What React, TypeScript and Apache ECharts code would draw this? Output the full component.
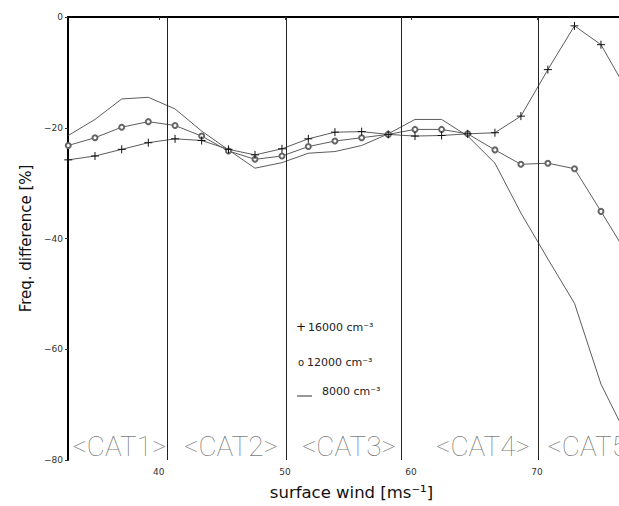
import React, { useEffect, useRef } from "react";
import * as echarts from "echarts";

// surface wind speed of each sample point [m/s]
const windSpeed = [
  32.82, 34.94, 37.06, 39.17, 41.29, 43.4, 45.53, 47.63, 49.77, 51.86, 53.97,
  56.09, 58.2, 60.32, 62.43, 64.5, 66.66, 68.72, 70.86, 72.97, 75.07, 77.19,
];

// frequency difference [%] per aerosol concentration
const diff16000 = [
  -25.8, -25.1, -23.9, -22.7, -22.0, -22.3, -23.9, -24.9, -23.8, -22.0, -20.8,
  -20.7, -21.2, -21.5, -21.4, -21.1, -20.9, -17.9, -9.5, -1.6, -5.0, -13.5,
];
const diff12000 = [
  -23.2, -21.8, -19.9, -18.9, -19.6, -21.5, -24.2, -25.7, -25.1, -23.4, -22.4,
  -21.8, -21.2, -20.3, -20.3, -21.1, -24.0, -26.6, -26.4, -27.4, -35.1, -43.0,
];
const diff8000 = [
  -21.4, -18.5, -14.8, -14.5, -16.6, -20.6, -24.0, -27.3, -26.3, -24.6, -24.3,
  -23.2, -21.1, -18.5, -18.5, -21.5, -26.4, -35.4, -43.7, -51.7, -66.3, -76.0,
];

// hurricane category boundaries [m/s] and the category captions
const categoryBounds = [40.7, 50.1, 59.2, 70.1];
const categoryNames = ["<CAT1>", "<CAT2>", "<CAT3>", "<CAT4>", "<CAT5>"];
const categoryCenters = [36.88, 45.73, 55.08, 65.71, 74.55];

const xTicks = [40, 50, 60, 70];
const legendNames = ["16000 cm⁻³", "12000 cm⁻³", "8000 cm⁻³"];

const X_MIN = 32.8;
const X_MAX = 76.5;

const pairs = (ys: number[]) => windSpeed.map((x, i) => [x, ys[i]]);

export default function App() {
  const ref = useRef<HTMLDivElement>(null);

  useEffect(() => {
    if (!ref.current) return;
    const chart = echarts.init(ref.current, null, { renderer: "svg" });
    const tickFont = { fontFamily: "DejaVu Sans", fontSize: 9, color: "#333" };
    const lineGray = "#5c5c5c";
    const legendFont = { fontFamily: "DejaVu Sans", fontSize: 11, fill: "#222", verticalAlign: "middle" };

    chart.setOption({
      animation: false,
      backgroundColor: "#fff",
      grid: { left: 68, right: 0, top: 17, bottom: 41 },
      xAxis: [
        {
          type: "value",
          min: X_MIN,
          max: X_MAX,
          name: "surface wind [ms⁻¹]",
          nameLocation: "middle",
          nameGap: 24,
          nameTextStyle: {
            fontFamily: "DejaVu Sans",
            fontSize: 16.5,
            color: "#111",
            padding: [0, 0, 0, 16],
          },
          axisLine: { lineStyle: { color: "#000", width: 2 } },
          axisTick: { show: true, length: 3, customValues: xTicks, lineStyle: { color: "#333" } },
          axisLabel: { ...tickFont, margin: 7, customValues: xTicks },
          splitLine: { show: false },
        },
        {
          type: "value",
          position: "top",
          min: X_MIN,
          max: X_MAX,
          axisLine: { show: true, lineStyle: { color: "#000", width: 2 } },
          axisTick: { show: false },
          axisLabel: { show: false },
          splitLine: { show: false },
        },
      ],
      yAxis: {
        type: "value",
        min: -80,
        max: 0,
        interval: 20,
        name: "Freq. difference [%]",
        nameLocation: "middle",
        nameGap: 30,
        nameTextStyle: { fontFamily: "DejaVu Sans", fontSize: 15, color: "#111" },
        axisLine: { show: true, lineStyle: { color: "#000", width: 2 } },
        axisTick: { show: true, length: 3, lineStyle: { color: "#333" } },
        axisLabel: {
          ...tickFont,
          margin: 5,
          formatter: (v: number) => String(v).replace("-", "−"),
        },
        splitLine: { show: false },
      },
      series: [
        {
          name: legendNames[2],
          type: "line",
          data: pairs(diff8000),
          symbol: "none",
          lineStyle: { color: lineGray, width: 1 },
          markLine: {
            silent: true,
            symbol: "none",
            label: { show: false },
            lineStyle: { color: "#222", width: 1, type: "solid" },
            data: categoryBounds.map((b) => ({ xAxis: b })),
          },
        },
        {
          name: legendNames[1],
          type: "line",
          data: pairs(diff12000),
          symbol: "emptyCircle",
          symbolSize: 5,
          lineStyle: { color: lineGray, width: 1 },
          itemStyle: { color: "#666", borderWidth: 1 },
        },
        {
          name: legendNames[0],
          type: "line",
          data: pairs(diff16000),
          symbol: "path://M0,4L8,4M4,0L4,8",
          symbolSize: 8,
          lineStyle: { color: lineGray, width: 1 },
          itemStyle: { color: "none", borderColor: "#111", borderWidth: 1 },
        },
        {
          type: "scatter",
          silent: true,
          symbolSize: 1,
          itemStyle: { color: "rgba(0,0,0,0)" },
          label: {
            show: true,
            position: "inside",
            formatter: (p: any) => p.name,
            fontFamily: "Roboto",
            fontWeight: 100,
            fontSize: 28,
            color: "#555",
          },
          data: categoryNames.map((n, i) => ({ name: n, value: [categoryCenters[i], -77.6] })),
        },
      ],
      graphic: [
        { type: "text", x: 296, y: 327, style: { ...legendFont, text: "+", fontSize: 12, fill: "#111" } },
        { type: "text", x: 308, y: 327, style: { ...legendFont, text: legendNames[0] } },
        { type: "text", x: 298, y: 362, style: { ...legendFont, text: "o", fontSize: 10 } },
        { type: "text", x: 307, y: 362, style: { ...legendFont, text: legendNames[1] } },
        { type: "line", shape: { x1: 297, y1: 396, x2: 312, y2: 396 }, style: { stroke: "#333", lineWidth: 1 } },
        { type: "text", x: 322, y: 391, style: { ...legendFont, text: legendNames[2] } },
      ],
    });
    return () => chart.dispose();
  }, []);

  return (
    <div
      ref={ref}
      style={{ position: "fixed", left: 0, top: 0, width: 619, height: 506, background: "#fff" }}
    />
  );
}
